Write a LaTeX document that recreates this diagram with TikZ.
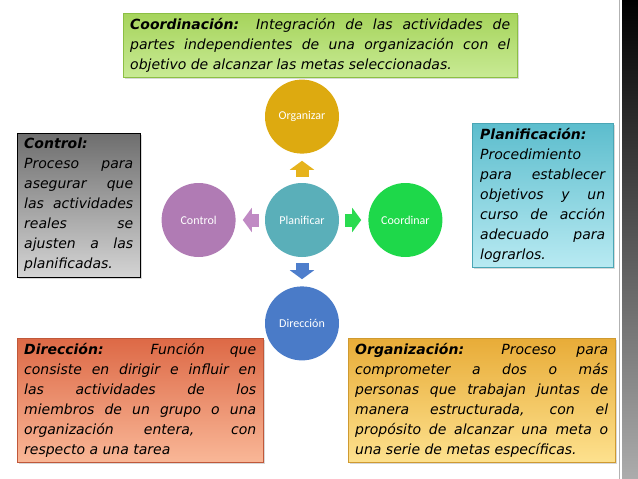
\documentclass[tikz,border=0pt]{standalone}
\usepackage{fontspec}
\newfontfamily\boxfont{DejaVu Sans}
\newfontfamily\circfont{Carlito}
\usepackage{xcolor}
\usetikzlibrary{arrows.meta,positioning,shadows}
\definecolor{cPlan}{HTML}{5AAFB9}
\definecolor{cOrg}{HTML}{DDAA10}
\definecolor{cCtrl}{HTML}{B07BB4}
\definecolor{cCoord}{HTML}{1ED84A}
\definecolor{cDir}{HTML}{4A7BC8}
\definecolor{aOrg}{HTML}{E6B31C}
\definecolor{aCtrl}{HTML}{C08AC4}
\definecolor{aCoord}{HTML}{2ADB50}
\definecolor{aDir}{HTML}{4E7ECC}
\definecolor{coordA}{HTML}{A6D45C}
\definecolor{coordB}{HTML}{C8EA94}
\definecolor{coordE}{HTML}{8CBF44}
\definecolor{ctrlA}{HTML}{6E6E6E}
\definecolor{ctrlB}{HTML}{D4D4D4}
\definecolor{planA}{HTML}{5CBDCD}
\definecolor{planB}{HTML}{B8EAF2}
\definecolor{planE}{HTML}{4AA6B5}
\definecolor{dirA}{HTML}{DD6946}
\definecolor{dirB}{HTML}{F9B797}
\definecolor{dirE}{HTML}{C0583A}
\definecolor{orgA}{HTML}{E8AC38}
\definecolor{orgB}{HTML}{FDE18E}
\definecolor{orgE}{HTML}{CF9A30}
\tolerance=10000
\hbadness=10000

\begin{document}
\begin{tikzpicture}[x=1pt, y=-1pt, node distance=29pt,
	Etapa/.style={circle, minimum size=74pt, inner sep=0pt, text=white, font=\circfont\fontsize{12}{14}\selectfont},
	Flecha/.style={draw=#1, line width=13pt, line cap=butt, -{Triangle[width=24pt, length=9pt]}, shorten <=6pt, shorten >=7pt},
	Cuadro/.style={anchor=north west, inner xsep=7pt, inner ysep=5pt, align=justify, font=\boxfont\fontsize{14}{20}\selectfont\itshape, drop shadow={opacity=0.3, shadow xshift=2pt, shadow yshift=-2pt}}]
	\fill[white] (0,0) rectangle (638,479);
	\useasboundingbox (0,0) rectangle (638,479);
	\shade[top color=black, bottom color=gray!65] (622,0) rectangle (638,479);
	\draw[gray!60, line width=0.8pt] (619,0) -- (619,479);

	\node[Etapa, fill=cPlan] (plan) at (302,220) {Planificar};
	\node[Etapa, fill=cOrg, above=of plan] (org) {Organizar};
	\node[Etapa, fill=cCtrl, left=of plan] (ctrl) {Control};
	\node[Etapa, fill=cCoord, right=of plan] (coor) {Coordinar};
	\node[Etapa, fill=cDir, below=of plan] (dir) {Dirección};
	\draw[Flecha=aOrg] (plan) -- (org);
	\draw[Flecha=aCtrl] (plan) -- (ctrl);
	\draw[Flecha=aCoord] (plan) -- (coor);
	\draw[Flecha=aDir] (plan) -- (dir);

	\node[Cuadro, text width=380pt, draw=coordE, top color=coordA, bottom color=coordB] (defcoord) at (123,13) {\textbf{Coordinación:} Integración de las actividades de\linebreak partes independientes de una organización con el\linebreak objetivo de alcanzar las metas seleccionadas.};
	\node[Cuadro, text width=109pt, draw=black, top color=ctrlA, bottom color=ctrlB] (defctrl) at (17,133) {\textbf{Control:}\\ Proceso para\linebreak asegurar que\linebreak las actividades\linebreak reales se\linebreak ajusten a las\linebreak planificadas.};
	\node[Cuadro, text width=125pt, inner xsep=8pt, draw=planE, top color=planA, bottom color=planB] (defplan) at (472,123) {\textbf{Planificación:}\\ Procedimiento\\ para establecer\linebreak objetivos y un\linebreak curso de acción\linebreak adecuado para\linebreak lograrlos.};
	\node[Cuadro, text width=232pt, draw=dirE, top color=dirA, bottom color=dirB] (defdir) at (17,338) {\textbf{Dirección:} Función que\linebreak consiste en dirigir e influir en\linebreak las actividades de los\linebreak miembros de un grupo o una\linebreak organización entera, con\linebreak respecto a una tarea};
	\node[Cuadro, text width=253pt, draw=orgE, top color=orgA, bottom color=orgB] (deforg) at (348,338) {\textbf{Organización:} Proceso para\linebreak comprometer a dos o más\linebreak personas que trabajan juntas de\linebreak manera estructurada, con el\linebreak propósito de alcanzar una meta o\linebreak una serie de metas específicas.};
\end{tikzpicture}
\end{document}
